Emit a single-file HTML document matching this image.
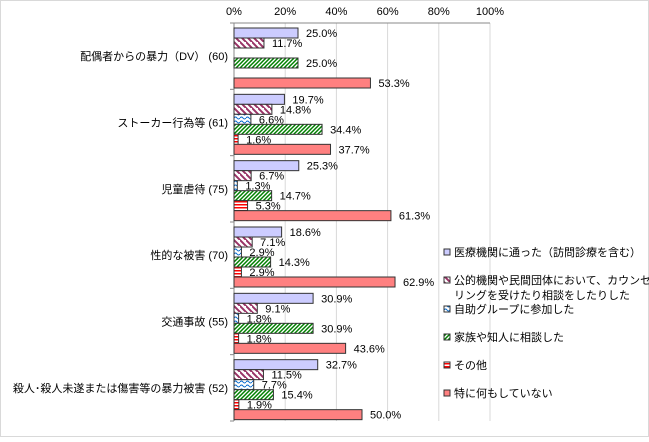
<!DOCTYPE html>
<html><head><meta charset="utf-8"><style>
body{margin:0;background:#fff;}
svg text{font-family:"Liberation Sans","Noto Sans CJK JP",sans-serif;font-size:11px;fill:#000;}
</style></head><body>
<svg width="649" height="437" xmlns="http://www.w3.org/2000/svg">
<defs>
<pattern id="p1" width="6" height="6" patternUnits="userSpaceOnUse"><rect width="6" height="6" fill="#fff"/><path d="M-1,-1 L7,7 M-4,2 L2,8 M4,-4 L10,2" stroke="#993366" stroke-width="2"/></pattern>
<pattern id="p2" width="6" height="4" patternUnits="userSpaceOnUse"><rect width="6" height="4" fill="#fff"/><path d="M0,2 Q1.5,0 3,2 T6,2" stroke="#0066cc" stroke-width="1" fill="none"/></pattern>
<pattern id="p3" width="4" height="4" patternUnits="userSpaceOnUse"><rect width="4" height="4" fill="#fff"/><path d="M-1,5 L5,-1 M-1,1 L1,-1 M3,5 L5,3" stroke="#008000" stroke-width="1.5"/></pattern>
<pattern id="p4" width="4" height="3" patternUnits="userSpaceOnUse"><rect width="4" height="3" fill="#fff"/><rect y="0" width="4" height="1.5" fill="#ff0000"/></pattern>
</defs>
<rect x="0.5" y="0.5" width="648" height="436" fill="#fff" stroke="#d9d9d9"/>
<g id="grid"></g><g id="bars"></g><g id="labels"></g><g id="legend"></g>
</svg>
<script>
const categories=["配偶者からの暴力（DV） (60)","ストーカー行為等 (61)","児童虐待 (75)","性的な被害 (70)","交通事故 (55)","殺人･殺人未遂または傷害等の暴力被害 (52)"];
const seriesNames=["医療機関に通った（訪問診療を含む）","公的機関や民間団体において、カウンセ|リングを受けたり相談をしたりした","自助グループに参加した","家族や知人に相談した","その他","特に何もしていない"];
const s1=[25.0,19.7,25.3,18.6,30.9,32.7];
const s2=[11.7,14.8,6.7,7.1,9.1,11.5];
const s3=[null,6.6,1.3,2.9,1.8,7.7];
const s4=[25.0,34.4,14.7,14.3,30.9,15.4];
const s5=[null,1.6,5.3,2.9,1.8,1.9];
const s6=[53.3,37.7,61.3,62.9,43.6,50.0];
const ticks=[0,20,40,60,80,100];
const series=[s1,s2,s3,s4,s5,s6];
const fills=["#ccccff","url(#p1)","url(#p2)","url(#p3)","url(#p4)","#ff8080"];
const NS="http://www.w3.org/2000/svg";
const x0=234,x1=490,plotTop=23,plotBottom=421;
const gh=(plotBottom-plotTop)/categories.length;
const X=v=>x0+(x1-x0)*v/100;
function mk(t,a,p){const e=document.createElementNS(NS,t);for(const k in a)e.setAttribute(k,a[k]);p.appendChild(e);return e;}
const grid=document.getElementById('grid'),bars=document.getElementById('bars'),labels=document.getElementById('labels'),legend=document.getElementById('legend');
ticks.forEach(t=>{
 const l=mk('line',{x1:X(t),x2:X(t),y1:plotTop,y2:plotBottom,stroke:t===0?'#888':'#d9d9d9'},grid);
 
 
 const tx=mk('text',{x:X(t),y:15,'text-anchor':'middle'},labels);tx.textContent=t+'%';
 
 
});
mk('line',{x1:x0,x2:x1,y1:plotTop,y2:plotTop,stroke:'#888'},grid);
categories.forEach((c,g)=>{
 const gy=plotTop+g*gh;
 mk('line',{x1:x0-4,x2:x0,y1:gy,y2:gy,stroke:'#888'},grid);
 const tx=mk('text',{x:228,y:gy+gh/2+4,'text-anchor':'end'},labels);tx.textContent=c;
 
 
 series.forEach((s,i)=>{
  const v=s[g];if(v===null)return;
  const y=gy+5+i*10;
  const r=mk('rect',{x:x0,y:y,width:X(v)-x0,height:10,fill:fills[i],stroke:'#333','stroke-width':1},bars);
  
  
  const t=mk('text',{x:X(v)+8,y:y+9},labels);t.textContent=v.toFixed(1)+'%';
  
  
 });
});
mk('line',{x1:x0-4,x2:x0,y1:plotBottom,y2:plotBottom,stroke:'#888'},grid);
const ly=[256,284,313,341,369,397];
seriesNames.forEach((n,i)=>{
 const r=mk('rect',{x:444,y:ly[i]-7,width:6,height:6,fill:fills[i],stroke:'#333'},legend);
 
 
 n.split('|').forEach((part,k)=>{
  const t=mk('text',{x:454,y:ly[i]+k*15},legend);t.textContent=part;
  
  
 });
});
</script>
</body></html>
